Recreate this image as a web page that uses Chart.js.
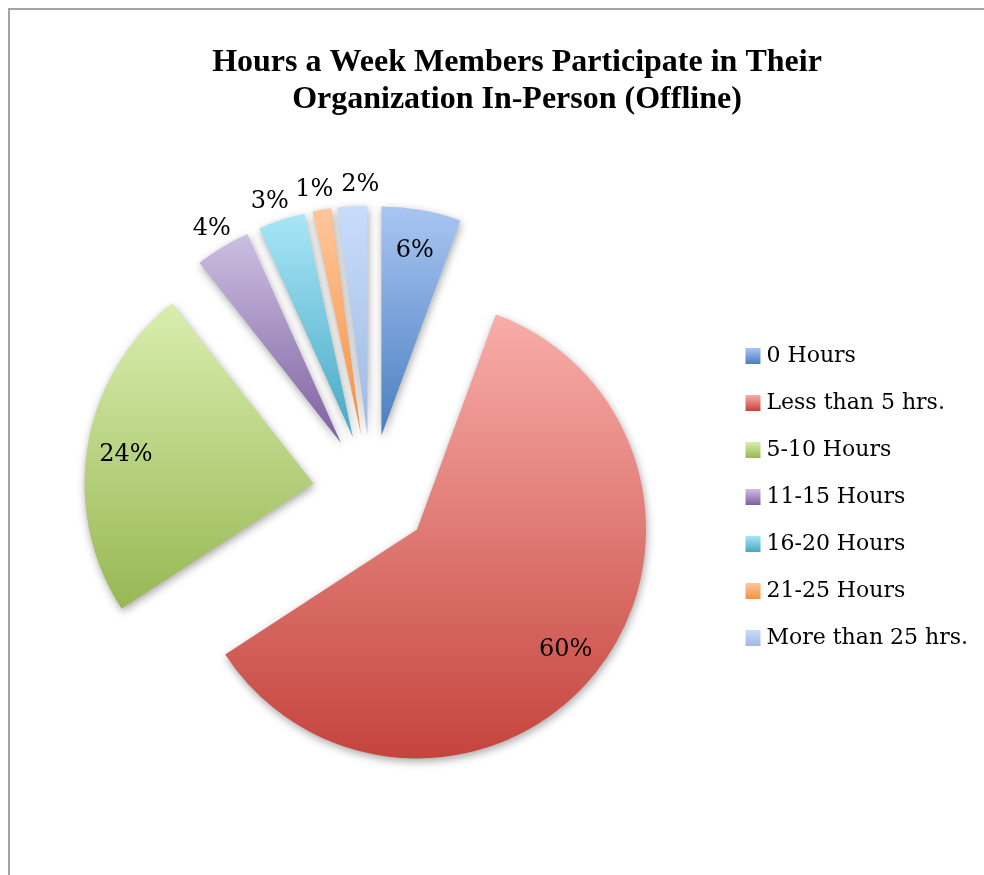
<!DOCTYPE html>
<html>
<head>
<meta charset="utf-8">
<script src="https://cdn.jsdelivr.net/npm/chart.js@4.4.1/dist/chart.umd.min.js"></script>
<style>
  html, body { margin: 0; padding: 0; background: #ffffff; }
  #wrap { position: relative; width: 984px; height: 875px; overflow: hidden; }
  #frame { position: absolute; left: 8px; top: 8px; right: -4px; bottom: -4px;
           border-top: 2px solid #a4a4a4; border-left: 2px solid #a4a4a4; }
  canvas { position: absolute; left: 0; top: 0; }
</style>
</head>
<body>
<div id="wrap"><div id="frame"></div><canvas id="c" width="984" height="875"></canvas></div>
<script>
// ---- data ----
const categories = ['0 Hours', 'Less than 5 hrs.', '5-10 Hours', '11-15 Hours', '16-20 Hours', '21-25 Hours', 'More than 25 hrs.'];
const shares = [5.6, 60.2, 23.6, 3.9, 3.3, 1.3, 2.1];
const titleLines = ['Hours a Week Members Participate in Their', 'Organization In-Person (Offline)'];

// ---- styles ----
const topColors    = ['#A9C6F2', '#F9ADA9', '#D9EEAE', '#CDBFE2', '#A9E6F8', '#FFC69C', '#C8DDFB'];
const bottomColors = ['#4A7EC0', '#C5443D', '#97B854', '#7D60A0', '#46A8C3', '#F59241', '#A0B8E2'];
const PIE_R = 229;        // slice radius in px
const OFFSET = 234;       // Chart.js offset (translation = OFFSET/4)
const LABEL_FONT = '24px "DejaVu Serif"';

const total = shares.reduce((a, b) => a + b, 0);

// vertical gradient across each slice (in the arc's un-translated frame)
function sliceGradient(c) {
  const chart = c.chart, i = c.dataIndex, area = chart.chartArea;
  if (!area || i === undefined) return topColors[i || 0];
  let cum = 0;
  for (let k = 0; k < i; k++) cum += shares[k];
  const s = -Math.PI / 2 + 2 * Math.PI * cum / total;
  const e = s + 2 * Math.PI * shares[i] / total;
  const cy = (area.top + area.bottom) / 2;
  const ys = [cy, cy + PIE_R * Math.sin(s), cy + PIE_R * Math.sin(e)];
  [-Math.PI / 2, Math.PI / 2, 3 * Math.PI / 2].forEach(a => {
    if (a > s && a < e) ys.push(cy + PIE_R * Math.sin(a));
  });
  const g = chart.ctx.createLinearGradient(0, Math.min(...ys), 0, Math.max(...ys));
  g.addColorStop(0, topColors[i]);
  g.addColorStop(1, bottomColors[i]);
  return g;
}

// legend swatches (gradient squares)
const swatches = categories.map((_, i) => {
  const cv = document.createElement('canvas');
  cv.width = 56; cv.height = 16;
  const g = cv.getContext('2d');
  const gr = g.createLinearGradient(0, 0, 0, 16);
  gr.addColorStop(0, topColors[i]);
  gr.addColorStop(1, bottomColors[i]);
  g.fillStyle = gr;
  g.fillRect(40, 0, 15, 16);
  return cv;
});

function spreadAngles(angles, gap) {
  let groups = angles.map((a, i) => ({ idx: [i], center: a }));
  let changed = true;
  while (changed) {
    changed = false;
    for (let k = 0; k < groups.length - 1; k++) {
      const g1 = groups[k], g2 = groups[k + 1];
      const end1 = g1.center + (g1.idx.length - 1) / 2 * gap;
      const start2 = g2.center - (g2.idx.length - 1) / 2 * gap;
      if (start2 - end1 < gap) {
        const idx = g1.idx.concat(g2.idx);
        const center = idx.reduce((sum, j) => sum + angles[j], 0) / idx.length;
        groups.splice(k, 2, { idx, center });
        changed = true;
        break;
      }
    }
  }
  const out = [];
  groups.forEach(g => g.idx.forEach((j, n) => { out[j] = g.center + (n - (g.idx.length - 1) / 2) * gap; }));
  return out;
}

const piePlugin = {
  id: 'piePlugin',
  // keep every exploded slice at the same radius and its full angle
  afterDatasetsUpdate(chart) {
    chart.getDatasetMeta(0).data.forEach(arc => {
      const off = (arc.options.offset || 0) / 4;
      const fix = 1 - Math.sin(Math.min(Math.PI, arc.circumference));
      const radiusOffset = off * fix;
      arc.outerRadius = PIE_R - radiusOffset;
      const ao = radiusOffset / (2 * Math.PI * PIE_R);
      arc.startAngle -= ao;
      arc.endAngle += ao;
    });
  },
  beforeDatasetsDraw(chart) {
    const ctx = chart.ctx;
    ctx.save();
    ctx.shadowColor = 'rgba(0,0,0,0.35)';
    ctx.shadowBlur = 8;
    ctx.shadowOffsetX = 1;
    ctx.shadowOffsetY = 3;
  },
  afterDatasetsDraw(chart) {
    const ctx = chart.ctx;
    ctx.restore();
    const meta = chart.getDatasetMeta(0);
    const inside = [], outside = [];
    meta.data.forEach((arc, i) => {
      const mid = (arc.startAngle + arc.endAngle) / 2;
      const off = (arc.options.offset || 0) / 4;
      const pct = shares[i] / total * 100;
      const item = {
        mid, off, text: Math.round(pct) + '%',
        cx: arc.x, cy: arc.y,
        ax: arc.x + Math.cos(mid) * off, ay: arc.y + Math.sin(mid) * off
      };
      (pct >= 5 ? inside : outside).push(item);
    });
    ctx.save();
    ctx.font = LABEL_FONT;
    ctx.fillStyle = '#000';
    ctx.textAlign = 'center';
    ctx.textBaseline = 'middle';
    inside.forEach(it => {
      const r = 0.83 * PIE_R;
      ctx.fillText(it.text, it.ax + Math.cos(it.mid) * r, it.ay + Math.sin(it.mid) * r + 2);
    });
    outside.sort((a, b) => a.mid - b.mid);
    const ang = spreadAngles(outside.map(o => o.mid), 8.6 * Math.PI / 180);
    outside.forEach((it, k) => {
      const r = PIE_R + it.off + 21;
      ctx.fillText(it.text, it.cx + Math.cos(ang[k]) * r, it.cy + Math.sin(ang[k]) * r);
    });
    ctx.restore();
  }
};

new Chart(document.getElementById('c'), {
  type: 'pie',
  data: {
    labels: categories,
    datasets: [{
      data: shares,
      backgroundColor: sliceGradient,
      borderWidth: 0,
      offset: OFFSET,
      radius: PIE_R
    }]
  },
  options: {
    responsive: false,
    animation: false,
    events: [],
    layout: { padding: { left: 56, right: 6, top: 0, bottom: 27 } },
    plugins: {
      title: {
        display: true,
        text: titleLines,
        color: '#000',
        font: { family: 'Liberation Serif', size: 32, weight: 'bold', lineHeight: 37 / 32 },
        padding: { top: 44, bottom: 20 }
      },
      legend: {
        position: 'right',
        fullSize: false,
        title: { display: true, text: ' ', color: '#000', font: { size: 8, lineHeight: 1 }, padding: 0 },
        labels: {
          usePointStyle: true,
          pointStyleWidth: 44,
          padding: 25,
          color: '#000',
          font: { family: 'DejaVu Serif', size: 22 },
          generateLabels: () => categories.map((t, i) => ({
            text: t, pointStyle: swatches[i], fillStyle: topColors[i], fontColor: '#000',
            strokeStyle: 'rgba(0,0,0,0)', lineWidth: 0, hidden: false, index: i
          }))
        }
      },
      tooltip: { enabled: false }
    }
  },
  plugins: [piePlugin]
});
</script>
</body>
</html>
